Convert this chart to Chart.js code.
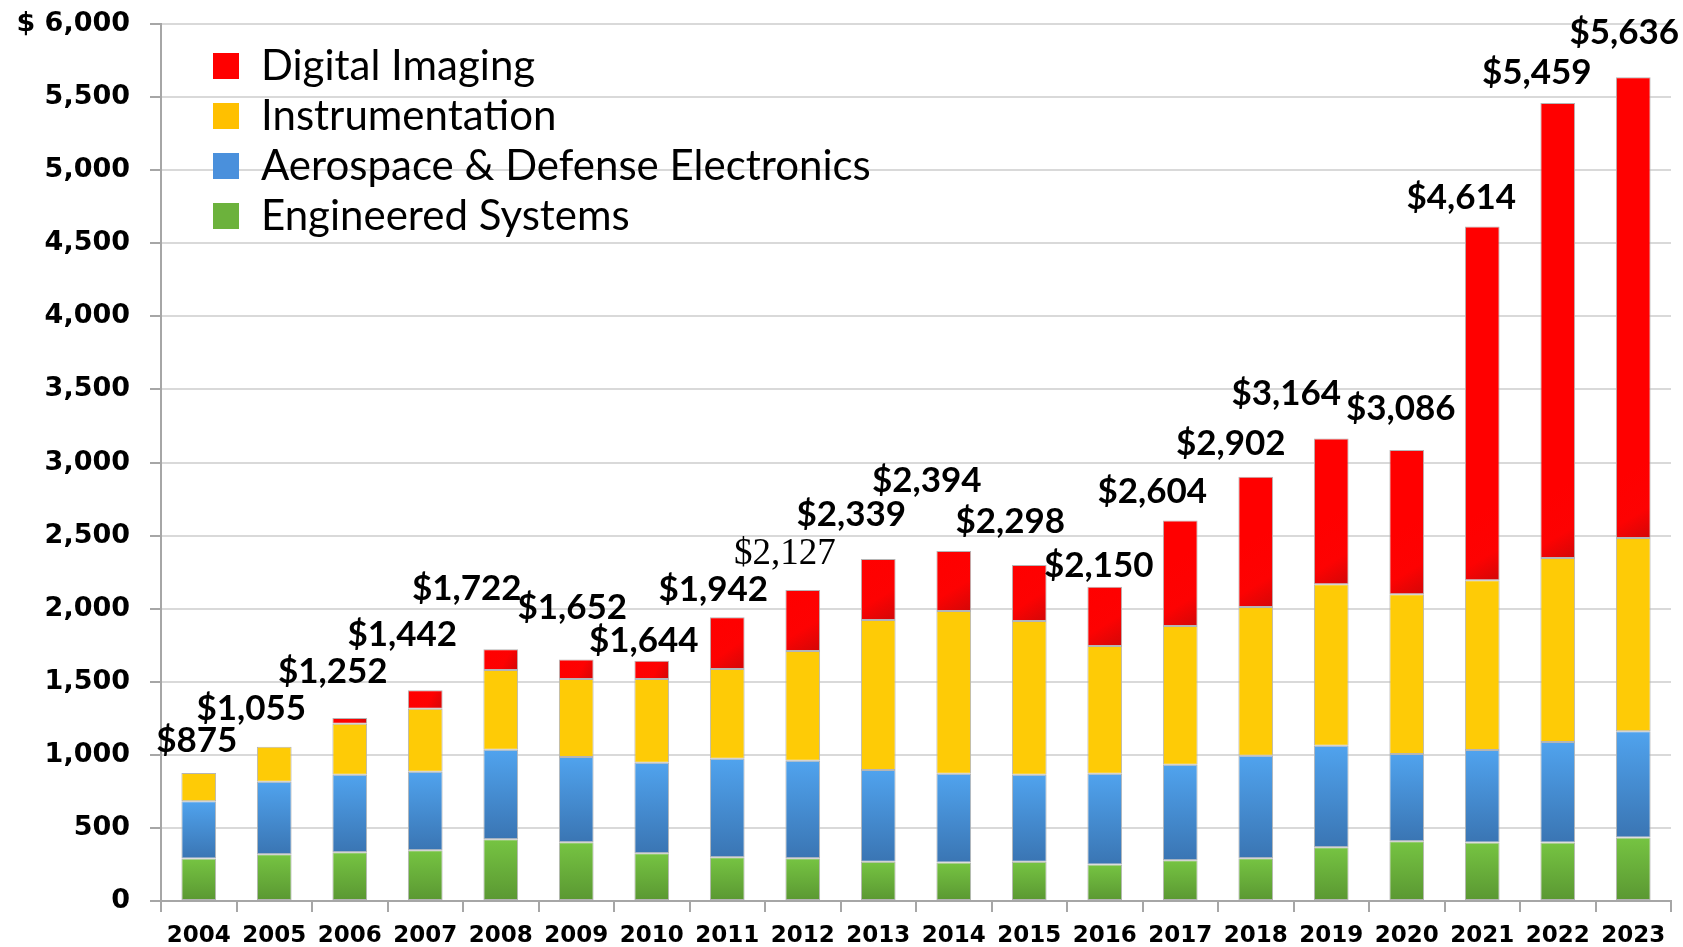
<!DOCTYPE html>
<html>
<head>
<meta charset="utf-8">
<script src="https://cdn.jsdelivr.net/npm/chart.js@4.4.1/dist/chart.umd.min.js"></script>
<style>
  html, body { margin: 0; padding: 0; background: #ffffff; }
  #wrap { width: 1683px; height: 947px; }
</style>
</head>
<body>
<div id="wrap"><canvas id="salesChart" width="1683" height="947"></canvas></div>
<script>
const years = ["2004", "2005", "2006", "2007", "2008", "2009", "2010", "2011", "2012", "2013",
  "2014", "2015", "2016", "2017", "2018", "2019", "2020", "2021", "2022", "2023"];

const engineeredSystems = [290, 320, 333, 347, 422, 402, 326, 299, 292, 269, 263, 269, 249, 279, 292, 368, 409, 401, 401, 434];
const aerospaceDefense = [393, 495, 530, 537, 612, 584, 619, 674, 667, 628, 607, 594, 621, 653, 701, 694, 596, 632, 686, 727];
const instrumentation = [192, 240, 349, 431, 546, 532, 573, 614, 751, 1025, 1114, 1053, 874, 949, 1018, 1105, 1093, 1161, 1260, 1322];
const digitalImaging = [0, 0, 40, 127, 142, 134, 126, 355, 417, 417, 410, 382, 406, 723, 891, 997, 988, 2420, 3112, 3153];

const totalLabels = ["$875", "$1,055", "$1,252", "$1,442", "$1,722", "$1,652", "$1,644", "$1,942", "$2,127", "$2,339",
  "$2,394", "$2,298", "$2,150", "$2,604", "$2,902", "$3,164", "$3,086", "$4,614", "$5,459", "$5,636"];

const yTicks = [0, 500, 1000, 1500, 2000, 2500, 3000, 3500, 4000, 4500, 5000, 5500, 6000];

// where each total label sits relative to the top of its bar (px)
const labelDx = [-2, -23, -17, -23, -34, -4, -8, -14, -18, -27, -27, -19, -6, -28, -25, -45, -6, -21, -21, -9];
const labelDy = [-32, -38, -46, -56, -61, -52, -20, -27, -36, -44, -70, -43, -21, -29, -33, -45, -41, -29, -30, -44];

const seriesStack = [engineeredSystems, aerospaceDefense, instrumentation, digitalImaging];

function stackBase(seriesIndex, i) {
  let sum = 0;
  for (let s = 0; s < seriesIndex; s++) sum += seriesStack[s][i];
  return sum;
}

function barFill(seriesIndex, flat, makeStops, diagonal) {
  return function (ctx) {
    const chart = ctx.chart;
    if (!chart.chartArea || ctx.type !== "data") return flat;
    const i = ctx.dataIndex;
    const yScale = chart.scales.y;
    const xScale = chart.scales.x;
    const base = stackBase(seriesIndex, i);
    const top = base + seriesStack[seriesIndex][i];
    const yTop = yScale.getPixelForValue(top);
    const yBot = yScale.getPixelForValue(base);
    if (!isFinite(yTop) || !isFinite(yBot) || yBot - yTop < 1) return flat;
    const xc = xScale.getPixelForValue(i);
    const half = 18;
    let g;
    if (diagonal) {
      const span = Math.min(yBot - yTop, 60);
      g = chart.ctx.createLinearGradient(xc - half, yBot - span, xc + half, yBot);
    } else {
      g = chart.ctx.createLinearGradient(0, yTop, 0, yBot);
    }
    makeStops(g);
    return g;
  };
}

const greenFill = barFill(0, "#6db43d", (g) => {
  g.addColorStop(0, "#76c442");
  g.addColorStop(1, "#5a9732");
}, false);
const blueFill = barFill(1, "#4791db", (g) => {
  g.addColorStop(0, "#50a3ee");
  g.addColorStop(1, "#3a75b3");
}, false);
const redFill = barFill(3, "#ff0000", (g) => {
  g.addColorStop(0, "#ff0000");
  g.addColorStop(0.6, "#fd0202");
  g.addColorStop(1, "#d20707");
}, true);

const totalsPlugin = {
  id: "totals",
  afterDatasetsDraw(chart) {
    const ctx = chart.ctx;
    const xScale = chart.scales.x;
    const yScale = chart.scales.y;
    ctx.save();
    ctx.fillStyle = "#000000";
    ctx.textAlign = "center";
    ctx.textBaseline = "middle";
    years.forEach((year, i) => {
      const total = stackBase(4, i);
      const x = xScale.getPixelForValue(i) + labelDx[i];
      const y = yScale.getPixelForValue(total) + labelDy[i];
      if (year === "2012") {
        ctx.font = "normal 37px 'Liberation Serif'";
      } else {
        ctx.font = "bold 35px Lato";
      }
      ctx.fillText(totalLabels[i], x, y);
    });
    ctx.restore();
  },
};

const legendItems = [
  { text: "Digital Imaging", color: "#ff0000" },
  { text: "Instrumentation", color: "#ffc000" },
  { text: "Aerospace & Defense Electronics", color: "#4a90dc" },
  { text: "Engineered Systems", color: "#6cb23c" },
];

const legendPlugin = {
  id: "boxLegend",
  afterDraw(chart) {
    const ctx = chart.ctx;
    const area = chart.chartArea;
    const boxX = area.left + 52;
    const textX = area.left + 100;
    ctx.save();
    ctx.font = "normal 42px Lato";
    ctx.textBaseline = "middle";
    ctx.textAlign = "left";
    legendItems.forEach((item, k) => {
      const cy = area.top + 42 + k * 50;
      ctx.fillStyle = item.color;
      ctx.fillRect(boxX, cy - 13, 26, 26);
      ctx.fillStyle = "#000000";
      ctx.fillText(item.text, textX, cy);
    });
    ctx.restore();
  },
};

function buildChart() {
  const canvas = document.getElementById("salesChart");
  new Chart(canvas, {
    type: "bar",
    data: {
      labels: years,
      datasets: [
        { label: "Engineered Systems", data: engineeredSystems, backgroundColor: greenFill },
        { label: "Aerospace & Defense Electronics", data: aerospaceDefense, backgroundColor: blueFill },
        { label: "Instrumentation", data: instrumentation, backgroundColor: "#fecb06" },
        { label: "Digital Imaging", data: digitalImaging, backgroundColor: redFill },
      ].map((ds) => Object.assign(ds, {
        borderColor: "#b5b5b5",
        borderWidth: (c) => (c.raw ? 1 : 0),
        borderSkipped: false,
        barPercentage: 0.46,
        categoryPercentage: 1,
      })),
    },
    options: {
      responsive: false,
      animation: false,
      layout: { padding: { top: 24, right: 12, left: 0, bottom: 0 } },
      plugins: {
        legend: { display: false },
        tooltip: { enabled: false },
      },
      scales: {
        x: {
          stacked: true,
          offset: true,
          grid: {
            offset: true,
            drawOnChartArea: false,
            drawTicks: true,
            tickLength: 11,
            color: "#a6a6a6",
            lineWidth: 2,
          },
          border: { color: "#a6a6a6", width: 2 },
          ticks: {
            color: "#000000",
            font: { family: "DejaVu Sans", size: 23, weight: "bold" },
            padding: 10,
            maxRotation: 0,
            autoSkip: false,
          },
          afterFit(scale) { scale.height = 46; },
        },
        y: {
          stacked: true,
          min: 0,
          max: 6000,
          afterBuildTicks(scale) { scale.ticks = yTicks.map((v) => ({ value: v })); },
          grid: {
            color: "#d9d9d9",
            lineWidth: 2,
            tickLength: 11,
            tickColor: "#a6a6a6",
          },
          border: { color: "#a6a6a6", width: 2 },
          ticks: {
            color: "#000000",
            font: { family: "DejaVu Sans", size: 27, weight: "bold" },
            padding: 20,
            callback: (v) => (v === 6000 ? "$ 6,000" : v.toLocaleString("en-US")),
          },
          afterFit(scale) {
            scale.width = 161;
            // tick padding would otherwise push the plot top down
            scale.paddingTop = 0;
            scale.paddingBottom = 0;
          },
        },
      },
    },
    plugins: [totalsPlugin, legendPlugin],
  });
}

Promise.all([
  document.fonts.load("bold 35px Lato"),
  document.fonts.load("normal 42px Lato"),
  document.fonts.load("bold 27px 'DejaVu Sans'"),
  document.fonts.load("normal 37px 'Liberation Serif'"),
]).catch(() => null).then(buildChart);
</script>
</body>
</html>
